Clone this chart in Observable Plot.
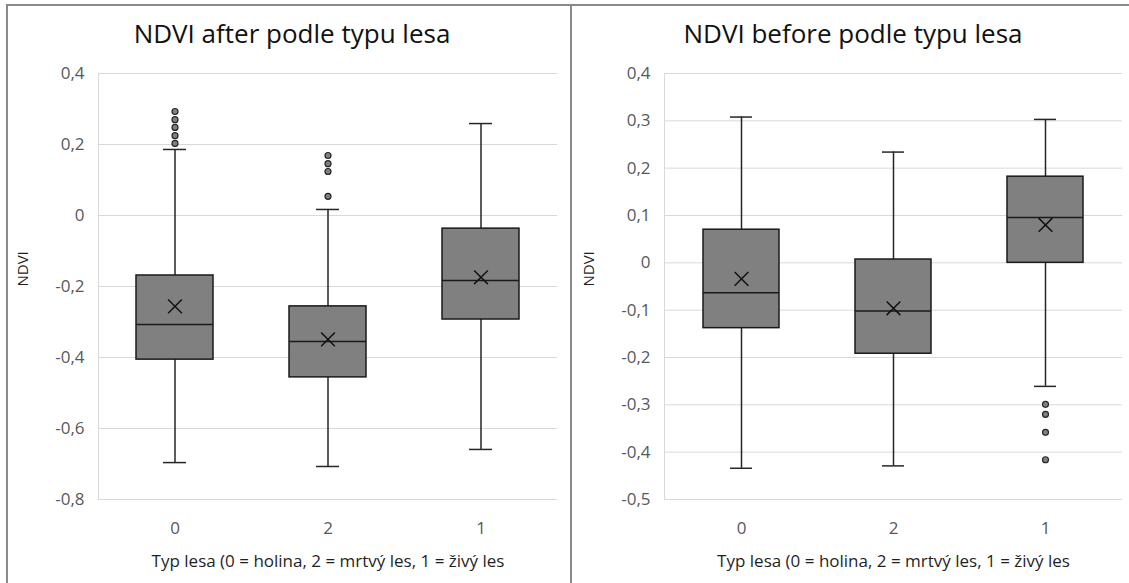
<!DOCTYPE html>
<html><head><meta charset="utf-8">
<script src="https://cdn.jsdelivr.net/npm/d3@7"></script>
<script src="https://cdn.jsdelivr.net/npm/@observablehq/plot@0.6"></script>
<style>
html,body{margin:0;padding:0;background:#fff;overflow:hidden;}
#root{position:relative;width:1129px;height:583px;overflow:hidden;font-family:"Open Sans",sans-serif;}
.panel{position:absolute;top:4px;height:620px;border:2px solid #8a8a8a;box-sizing:border-box;}
.title{position:absolute;top:20px;font-size:26px;line-height:26px;color:#111;white-space:nowrap;transform:translateX(-50%);}
.chart{position:absolute;top:0;}
.chart svg{background:transparent;}
</style></head><body><div id="root"></div>
<script>
const categories = ["0", "2", "1"];
const xAxisLabel = "Typ lesa (0 = holina, 2 = mrtvý les, 1 = živý les";
const yAxisLabel = "NDVI";

const afterTitle = "NDVI after podle typu lesa";
const afterTicks = [-0.8, -0.6, -0.4, -0.2, 0, 0.2, 0.4];
const afterLow = [-0.696, -0.707, -0.659];
const afterQ1 = [-0.406, -0.456, -0.293];
const afterMedian = [-0.307, -0.355, -0.183];
const afterQ3 = [-0.169, -0.256, -0.037];
const afterHigh = [0.186, 0.017, 0.259];
const afterMean = [-0.256, -0.349, -0.174];
const afterOutlierCat = ["0", "0", "0", "0", "0", "2", "2", "2", "2"];
const afterOutlierVal = [0.293, 0.270, 0.248, 0.225, 0.203, 0.169, 0.146, 0.124, 0.054];

const beforeTitle = "NDVI before podle typu lesa";
const beforeTicks = [-0.5, -0.4, -0.3, -0.2, -0.1, 0, 0.1, 0.2, 0.3, 0.4];
const beforeLow = [-0.434, -0.429, -0.261];
const beforeQ1 = [-0.138, -0.192, 0.0];
const beforeMedian = [-0.063, -0.102, 0.096];
const beforeQ3 = [0.070, 0.007, 0.182];
const beforeHigh = [0.308, 0.234, 0.303];
const beforeMean = [-0.034, -0.096, 0.080];
const beforeOutlierCat = ["1", "1", "1", "1"];
const beforeOutlierVal = [-0.299, -0.320, -0.358, -0.416];

const fmt = d => (Math.abs(d) < 1e-9 ? "0" : String(+d.toFixed(1)).replace(".", ","));

function chart(o) {
  const boxes = categories.map((c, i) => ({cat: c, low: o.low[i], q1: o.q1[i], med: o.med[i], q3: o.q3[i], high: o.high[i], mean: o.mean[i]}));
  const outliers = o.oCat.map((c, i) => ({cat: c, v: o.oVal[i]}));
  return Plot.plot({
    width: o.width, height: 583,
    marginTop: 73, marginBottom: 84, marginLeft: o.marginLeft, marginRight: o.marginRight,
    style: {fontFamily: "'Open Sans', sans-serif", background: "transparent", overflow: "visible"},
    x: {domain: categories, padding: 0, label: null},
    y: {domain: [o.ticks[0], o.ticks[o.ticks.length - 1]], label: null},
    marks: [
      Plot.gridY(o.ticks, {stroke: "#d9d9d9", strokeOpacity: 1, strokeWidth: 1}),
      Plot.frame({anchor: "left", stroke: "#d9d9d9", strokeWidth: 1}),
      Plot.axisY(o.ticks, {tickSize: 0, tickPadding: 14, tickFormat: fmt, fontSize: 17, fill: "#595959", label: null}),
      Plot.axisX({tickSize: 0, tickPadding: 22, fontSize: 17, fill: "#595959", label: null}),
      Plot.text([xAxisLabel], {frameAnchor: "bottom", dy: 67, fontSize: 17, fill: "#1f1f1f"}),
      Plot.text([yAxisLabel], {frameAnchor: "left", dx: o.yLabelDx, rotate: -90, fontSize: 15, fill: "#1f1f1f"}),
      Plot.ruleX(boxes, {x: "cat", y1: "low", y2: "high", stroke: "#262626", strokeWidth: 1.5}),
      Plot.tickY(boxes, {x: "cat", y: "low", stroke: "#262626", strokeWidth: 1.5, insetLeft: 65, insetRight: 65}),
      Plot.tickY(boxes, {x: "cat", y: "high", stroke: "#262626", strokeWidth: 1.5, insetLeft: 65, insetRight: 65}),
      Plot.barY(boxes, {x: "cat", y1: "q1", y2: "q3", fill: "#808080", stroke: "#1a1a1a", strokeWidth: 1.5, insetLeft: 38, insetRight: 38}),
      Plot.tickY(boxes, {x: "cat", y: "med", stroke: "#1a1a1a", strokeWidth: 1.5, insetLeft: 38, insetRight: 38}),
      Plot.dot(boxes, {x: "cat", y: "mean", symbol: "times", r: 6.3, stroke: "#111", strokeWidth: 1.5}),
      Plot.dot(outliers, {x: "cat", y: "v", r: 3, fill: "#808080", stroke: "#262626", strokeWidth: 1.2})
    ]
  });
}

const root = document.getElementById("root");
function addDiv(cls, styles, text) {
  const d = document.createElement("div");
  d.className = cls;
  Object.assign(d.style, styles);
  if (text) d.textContent = text;
  root.appendChild(d);
  return d;
}
addDiv("panel", {left: "6px", width: "566px"});
addDiv("panel", {left: "570px", width: "580px"});

const left = addDiv("chart", {left: "0px"});
left.appendChild(chart({width: 571, marginLeft: 98, marginRight: 14, ticks: afterTicks, low: afterLow, q1: afterQ1, med: afterMedian, q3: afterQ3, high: afterHigh, mean: afterMean, oCat: afterOutlierCat, oVal: afterOutlierVal, yLabelDx: -75}));
const right = addDiv("chart", {left: "571px"});
right.appendChild(chart({width: 558, marginLeft: 93, marginRight: 7, ticks: beforeTicks, low: beforeLow, q1: beforeQ1, med: beforeMedian, q3: beforeQ3, high: beforeHigh, mean: beforeMean, oCat: beforeOutlierCat, oVal: beforeOutlierVal, yLabelDx: -75}));

addDiv("title", {left: "292px"}, afterTitle);
addDiv("title", {left: "853px"}, beforeTitle);
</script></body></html>
